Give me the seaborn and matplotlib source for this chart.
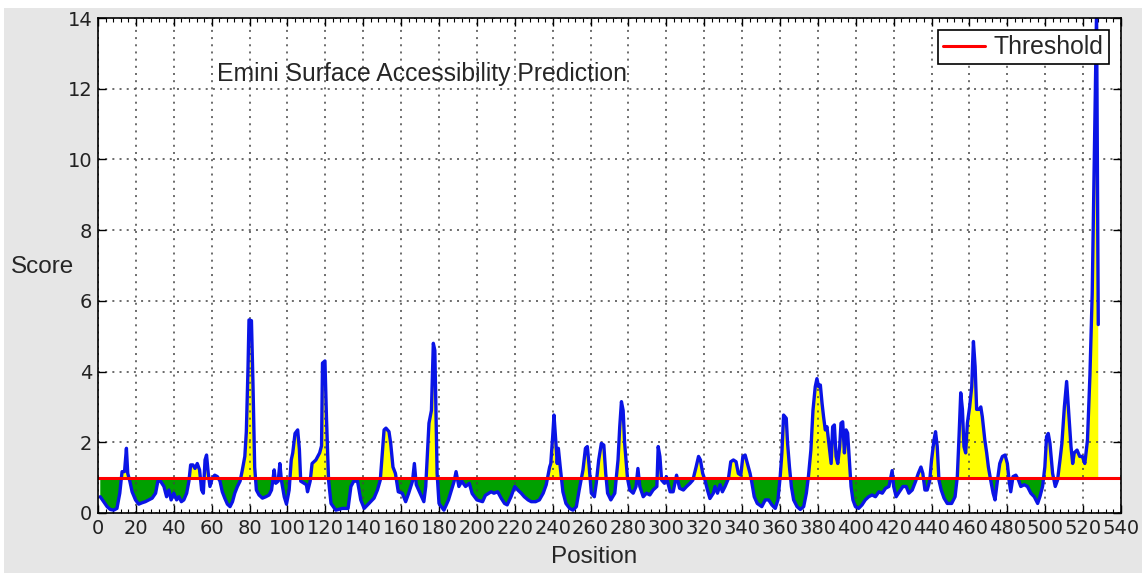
import numpy as np
import pandas as pd
import matplotlib
matplotlib.use("Agg")
import matplotlib.pyplot as plt
from matplotlib.patches import Rectangle
from matplotlib.ticker import MultipleLocator
import seaborn as sns

# ---- data ----
positions = [
    1.2, 3, 4.8, 6.5, 8.3, 10, 11.5, 12.7, 14, 15, 15.7, 16.8, 18, 19.8, 21.5, 23.3, 25, 26.8, 28.6, 30.4,
    31.6, 33, 34.8, 36.2, 37.4, 38.6, 40, 41.5, 42.7, 44, 45.3, 46.8, 48, 48.9, 50.1, 51.2, 52.4, 53.6, 54.7, 55.6,
    56.5, 57.3, 58.2, 59.1, 60.3, 61.6, 63, 64.4, 65.6, 66.9, 68.3, 69.7, 71, 72.2, 73.6, 75, 76.2, 77.5, 78.3, 79.2,
    79.7, 81, 81.8, 82.7, 83.6, 85, 86.8, 88.6, 90.3, 91.6, 93, 93.8, 95.1, 96, 96.8, 98.3, 99.5, 100.9, 102, 102.8,
    104, 105.4, 106.3, 107, 108.5, 110, 110.6, 112, 113, 115, 117, 118, 118.5, 119.8, 120.6, 121.7, 123, 125.5, 129, 132,
    133.5, 135, 137, 138.7, 140.5, 143, 145.7, 147.5, 149, 151, 152, 153.6, 154.5, 155.7, 157, 158.5, 160.6, 162.4, 164, 166,
    167, 168, 170, 172, 173, 174.7, 176, 177, 177.8, 179, 180, 182.6, 185, 188, 189, 190.5, 192, 194, 196, 197.5,
    200, 203, 204.5, 207.5, 209, 211, 212.8, 214.6, 216, 218, 220, 221.6, 223.4, 225, 227, 228.7, 231, 233, 235, 236.6,
    238.4, 239, 240, 240.7, 241.6, 242.4, 243, 244, 245.4, 247, 249, 250.7, 252.5, 254, 256, 257.3, 258.3, 259.2, 260.4, 262,
    263, 264.3, 265.7, 267, 268, 269, 270.7, 272.8, 274.5, 275.4, 276.3, 277.2, 278, 279.5, 280.7, 282.5, 284, 285, 286, 287.8,
    289.5, 291.3, 293, 295, 295.7, 296.6, 297.5, 299, 300, 302, 303.6, 305.4, 307, 309, 310.7, 312.5, 314, 315.7, 317, 318,
    319.2, 320.4, 321.7, 323, 324.8, 325.7, 327, 328.4, 329.6, 331, 332.8, 334, 335.4, 336.8, 338, 339.3, 340.4, 341.6, 342.8, 344.2,
    345, 346.4, 348, 350.4, 352.2, 354, 355.7, 357.5, 358.9, 360.1, 361, 361.9, 363.3, 364, 365, 366, 367.2, 369, 370.7, 372.5,
    373.9, 375, 376.3, 377.4, 378.6, 379.5, 380.4, 381.3, 382.2, 383, 383.9, 384.8, 386, 387, 387.8, 388.7, 389.6, 390.5, 391.5, 392.2,
    393.1, 394, 394.9, 395.7, 396.6, 397.5, 398.5, 399.8, 401.5, 403.3, 405, 406.8, 408.6, 410.4, 412.2, 414, 415.7, 417.5, 419.2, 420,
    421.3, 423, 424.9, 426.6, 428, 429.8, 431.6, 433, 434.4, 435.4, 436.5, 437.7, 439, 440, 441.3, 442.1, 443, 443.9, 445.1, 446.6,
    448.3, 450.6, 452.4, 453.6, 454.5, 455.4, 456.3, 457.1, 458, 458.9, 460.1, 461.2, 462.1, 463, 463.8, 465.1, 466, 466.8, 468.1, 469.1,
    470, 471.2, 472.5, 473.5, 474.8, 476, 477.4, 478.8, 480, 480.9, 481.8, 483, 484.5, 485.9, 487.1, 488.9, 490.6, 492.4, 494.2, 496,
    497.2, 498.6, 499.8, 500.7, 501.6, 502.5, 503.9, 505.3, 506.5, 507.8, 508.8, 510.1, 511.3, 512.3, 513.6, 514.5, 515.3, 516.8, 518.2, 519.6,
    520.9, 522.3, 523.6, 524.8, 526.2, 527.1, 528,
]
scores = [
    0.46, 0.32, 0.18, 0.10, 0.08, 0.13, 0.56, 1.17, 1.17, 1.83, 1.12, 0.90, 0.60, 0.37, 0.25, 0.29, 0.32, 0.37, 0.42, 0.56,
    0.90, 0.90, 0.75, 0.46, 0.65, 0.37, 0.56, 0.37, 0.46, 0.32, 0.37, 0.56, 0.90, 1.36, 1.36, 1.26, 1.40, 1.22, 0.65, 0.56,
    1.50, 1.64, 1.12, 0.75, 0.98, 1.07, 1.03, 0.90, 0.60, 0.42, 0.25, 0.18, 0.32, 0.56, 0.75, 0.90, 1.22, 1.60, 2.30, 4.14,
    5.46, 5.44, 3.67, 1.30, 0.65, 0.51, 0.42, 0.46, 0.51, 0.65, 1.22, 0.84, 0.90, 1.40, 0.93, 0.46, 0.25, 0.65, 1.50, 1.70,
    2.25, 2.35, 1.80, 0.90, 0.85, 0.80, 0.60, 0.90, 1.40, 1.50, 1.70, 1.90, 4.24, 4.30, 2.70, 0.93, 0.27, 0.08, 0.13, 0.13,
    0.75, 0.90, 0.90, 0.37, 0.13, 0.27, 0.42, 0.65, 0.93, 2.35, 2.40, 2.30, 1.97, 1.30, 1.12, 0.60, 0.56, 0.32, 0.56, 0.90,
    1.40, 0.80, 0.56, 0.32, 0.75, 2.54, 2.90, 4.80, 4.60, 1.12, 0.27, 0.08, 0.37, 0.90, 1.17, 0.75, 0.90, 0.75, 0.84, 0.55,
    0.37, 0.32, 0.50, 0.60, 0.56, 0.60, 0.42, 0.27, 0.23, 0.46, 0.75, 0.65, 0.56, 0.46, 0.37, 0.32, 0.32, 0.37, 0.56, 0.80,
    1.30, 1.40, 2.16, 2.77, 2.07, 1.40, 1.83, 1.30, 0.60, 0.27, 0.13, 0.08, 0.18, 0.65, 1.22, 1.83, 1.88, 1.36, 0.56, 0.46,
    0.84, 1.50, 1.97, 1.92, 1.12, 0.56, 0.37, 0.56, 1.50, 2.44, 3.15, 2.90, 1.97, 0.98, 0.65, 0.56, 0.75, 1.26, 0.75, 0.46,
    0.56, 0.51, 0.65, 0.75, 1.88, 1.60, 0.93, 0.84, 1.03, 0.60, 0.60, 1.07, 0.70, 0.65, 0.75, 0.84, 0.93, 1.30, 1.60, 1.50,
    1.12, 0.93, 0.65, 0.41, 0.56, 0.75, 0.56, 0.80, 0.60, 0.75, 0.98, 1.45, 1.50, 1.45, 1.12, 1.07, 1.60, 1.64, 1.40, 1.12,
    0.90, 0.46, 0.27, 0.18, 0.37, 0.37, 0.23, 0.13, 0.37, 1.03, 1.70, 2.77, 2.68, 1.97, 1.30, 0.75, 0.37, 0.18, 0.10, 0.18,
    0.56, 1.03, 1.78, 2.90, 3.57, 3.80, 3.57, 3.62, 3.10, 2.72, 2.35, 2.44, 1.88, 1.40, 2.44, 2.49, 1.60, 1.40, 1.88, 2.54,
    2.58, 1.70, 2.35, 2.26, 1.50, 0.75, 0.37, 0.18, 0.13, 0.23, 0.37, 0.46, 0.51, 0.46, 0.60, 0.56, 0.70, 0.75, 1.20, 0.75,
    0.46, 0.60, 0.75, 0.75, 0.56, 0.65, 0.90, 1.12, 1.30, 1.12, 0.65, 0.65, 0.90, 1.50, 2.07, 2.30, 1.88, 0.93, 0.65, 0.42,
    0.27, 0.27, 0.46, 1.03, 2.16, 3.40, 2.93, 1.88, 1.70, 2.54, 3.00, 3.57, 4.85, 4.14, 2.93, 2.93, 3.00, 2.72, 2.07, 1.70,
    1.30, 0.93, 0.56, 0.37, 0.93, 1.40, 1.60, 1.64, 1.40, 0.93, 0.60, 1.03, 1.07, 0.93, 0.75, 0.80, 0.75, 0.56, 0.46, 0.27,
    0.46, 0.75, 1.30, 2.16, 2.25, 1.97, 1.12, 0.75, 0.93, 1.50, 1.97, 3.00, 3.72, 2.90, 1.88, 1.40, 1.70, 1.78, 1.60, 1.60,
    1.40, 2.06, 3.90, 6.20, 11.0, 14.2, 5.33,
]
threshold = 1.0
title_text = "Emini Surface Accessibility Prediction"
x_ticks = list(range(0, 541, 20))
y_ticks = list(range(0, 15, 2))

# ---- figure ----
sns.set_style("ticks")
plt.rcParams["font.family"] = ["Liberation Sans", "DejaVu Sans"]

W, H = 1142, 573
fig = plt.figure(figsize=(W / 100, H / 100), dpi=100, facecolor="white")
fig.patches.append(Rectangle((4 / W, 0), 1, 1 - 8 / H, transform=fig.transFigure,
                             facecolor="#e6e6e6", edgecolor="none", zorder=-10))
ax = fig.add_axes([98 / W, 1 - 513 / H, (1121 - 98) / W, (513 - 18) / H])
ax.set_facecolor("white")

df = pd.DataFrame({"Position": positions, "Score": scores})
x = np.asarray(positions)
y = np.asarray(scores)

ax.fill_between(x, y, threshold, where=y >= threshold, interpolate=True,
                color="#ffff00", linewidth=0, zorder=2)
ax.fill_between(x, y, threshold, where=y <= threshold, interpolate=True,
                color="#00a000", linewidth=0, zorder=2)
sns.lineplot(data=df, x="Position", y="Score", ax=ax, color="#0a14e6",
             linewidth=2.4, estimator=None, sort=False, zorder=3)
ax.axhline(threshold, color="#ff0000", linewidth=2.2, zorder=4, label="Threshold")

ax.set_xlim(0, 540)
ax.set_ylim(0, 14)
ax.set_xticks(x_ticks)
ax.set_yticks(y_ticks)
ax.xaxis.set_minor_locator(MultipleLocator(4))
ax.tick_params(axis="both", which="both", direction="in", top=True, right=True,
               colors="black", labelcolor="#222222")
ax.tick_params(axis="both", which="major", length=6, width=1, labelsize=14, pad=4)
ax.tick_params(axis="x", which="minor", length=3, width=0.8)
for lab in ax.get_xticklabels() + ax.get_yticklabels():
    lab.set_family("DejaVu Sans")
ax.grid(True, which="major", color="#444444", linestyle=(0, (1.3, 3.4)), linewidth=1.1)
ax.set_axisbelow(False)
for s in ax.spines.values():
    s.set_color("black")
    s.set_linewidth(1.2)
    s.set_zorder(6)

ax.set_xlabel("")
ax.set_ylabel("")
fig.text(43 / W, 1 - 267 / H, "Score", ha="center", va="center", fontsize=17.5)
fig.text(594 / W, 1 - 557 / H, "Position", ha="center", va="center", fontsize=17.5)
ax.text((217 - 98) / (1121 - 98), (513 - 74) / (513 - 18), title_text,
        transform=ax.transAxes, ha="left", va="center", fontsize=17.8, zorder=7)

leg = ax.legend(loc="upper right", fontsize=17.8, frameon=True, fancybox=False,
                framealpha=1, edgecolor="black", borderaxespad=0.5,
                handlelength=1.7, handletextpad=0.35, borderpad=0.2)
leg.get_frame().set_linewidth(1.2)
leg.set_zorder(8)

fig.savefig("out.png", dpi=100, facecolor=fig.get_facecolor())
